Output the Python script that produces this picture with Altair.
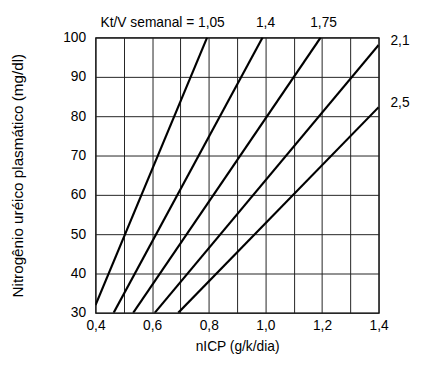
import altair as alt
import pandas as pd

# Kt/V semanal lines (straight lines)
kt_values = ["1,05", "1,4", "1,75", "2,1", "2,5"]
x_start = [0.400, 0.464, 0.533, 0.609, 0.692]
y_start = [32.0, 30.0, 30.0, 30.0, 30.0]
x_end = [0.794, 0.990, 1.195, 1.400, 1.400]
y_end = [100.0, 100.0, 100.0, 98.1, 82.3]

x_ticks = [0.4, 0.5, 0.6, 0.7, 0.8, 0.9, 1.0, 1.1, 1.2, 1.3, 1.4]
y_ticks = [30, 40, 50, 60, 70, 80, 90, 100]

rows = []
for i, k in enumerate(kt_values):
    rows.append({"kt": k, "x": x_start[i], "y": y_start[i], "o": 0})
    rows.append({"kt": k, "x": x_end[i], "y": y_end[i], "o": 1})
df = pd.DataFrame(rows)

top_df = pd.DataFrame({
    "label": ["Kt/V semanal = " + kt_values[0], kt_values[1], kt_values[2]],
    "x": x_end[:3],
    "y": y_end[:3],
})
right_df = pd.DataFrame({
    "label": kt_values[3:],
    "x": x_end[3:],
    "y": y_end[3:],
})

FONT = "Liberation Sans"
xscale = alt.Scale(domain=[0.4, 1.4], nice=False, zero=False)
yscale = alt.Scale(domain=[30, 100], nice=False, zero=False)

x_axis = alt.Axis(
    values=x_ticks,
    title="nICP (g/k/dia)",
    labelExpr="round(datum.value*10) % 2 == 0 ? replace(format(datum.value, '.1f'), '.', ',') : ''",
    grid=True, ticks=False, domain=False,
    labelFlush=False, labelOverlap=False,
    labelPadding=6, titlePadding=7,
    labelFontSize=14, titleFontSize=14,
    labelFont=FONT, titleFont=FONT,
    labelColor="black", titleColor="black", titleFontWeight="normal",
    gridColor="#222222", gridWidth=1, gridOpacity=1,
)
y_axis = alt.Axis(
    values=y_ticks,
    title="Nitrogênio uréico plasmático (mg/dl)",
    grid=True, ticks=False, domain=False,
    labelOverlap=False,
    labelPadding=10, titlePadding=38,
    labelFontSize=14, titleFontSize=15.5,
    labelFont=FONT, titleFont=FONT,
    labelColor="black", titleColor="black", titleFontWeight="normal",
    gridColor="#222222", gridWidth=1, gridOpacity=1,
)

X = alt.X("x:Q", scale=xscale, axis=x_axis)
Y = alt.Y("y:Q", scale=yscale, axis=y_axis)

lines = alt.Chart(df).mark_line(color="black", strokeWidth=2.2, clip=True).encode(
    x=X, y=Y, detail="kt:N", order="o:Q",
)

label_first = alt.Chart(top_df.iloc[[0]]).mark_text(
    align="right", baseline="middle", dx=18, dy=-15, font=FONT, fontSize=14, color="black"
).encode(x=X, y=Y, text="label:N")

label_top = alt.Chart(top_df.iloc[1:]).mark_text(
    align="center", baseline="middle", dx=3, dy=-15, font=FONT, fontSize=14, color="black"
).encode(x=X, y=Y, text="label:N")

label_right = alt.Chart(right_df).mark_text(
    align="left", baseline="middle", dx=12, dy=-4, font=FONT, fontSize=14, color="black"
).encode(x=X, y=Y, text="label:N")

chart = alt.layer(lines, label_first, label_top, label_right).properties(
    width=288,
    height=280,
    autosize=alt.AutoSizeParams(type="none"),
    padding={"left": 89, "top": 27, "right": 40, "bottom": 50},
    background="white",
).configure_view(stroke="black", strokeWidth=1.2)

chart.save("out.html", embed_options={"renderer": "svg", "actions": False})
